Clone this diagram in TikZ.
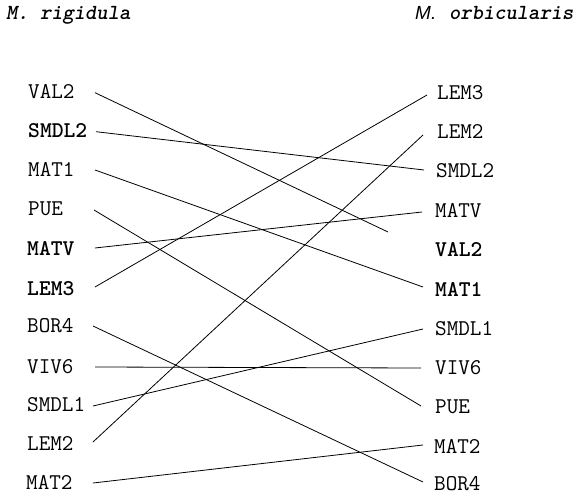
\documentclass[tikz,border=0pt]{standalone}
\usepackage{fontspec}
\newfontfamily\sansfam{Liberation Sans}
\begin{document}
\begin{tikzpicture}[x=1pt,y=-1pt,
  lab/.style={font=\ttfamily\fontsize{22.5}{24}\selectfont, inner sep=0pt},
  labL/.style={lab, anchor=west},
  labR/.style={lab, anchor=west},
  labB/.style={font=\ttfamily\bfseries\fontsize{22.5}{24}\selectfont},
  ttl/.style={font=\ttfamily\bfseries\slshape\fontsize{21.5}{24}\selectfont, inner sep=0pt, anchor=base west},
  conn/.style={line width=0.8pt, black}]
\useasboundingbox (0,0) rectangle (576,495);
% titles
\node[ttl] (tL) at (6,20) {M. rigidula};
\node[font=\sansfam\itshape\fontsize{19}{20}\selectfont, inner sep=0pt, anchor=base west] (tRm) at (415,20) {M.};
\node[ttl] (tR) at (449,20) {orbicularis};
% left labels
\node[labL] (L1) at (28,91.5) {VAL2};
\node[labL,labB] (L2) at (28,131) {SMDL2};
\node[labL] (L3) at (28,169.5) {MAT1};
\node[labL] (L4) at (28,208.5) {PUE};
\node[labL,labB] (L5) at (27,249) {MATV};
\node[labL,labB] (L6) at (27,289) {LEM3};
\node[labL] (L7) at (27,326) {BOR4};
\node[labL] (L8) at (27,366.5) {VIV6};
\node[labL] (L9) at (27,405) {SMDL1};
\node[labL] (L10) at (27,443) {LEM2};
\node[labL] (L11) at (26,482.5) {MAT2};
% right labels
\node[labR] (R1) at (437,93) {LEM3};
\node[labR] (R2) at (437,131) {LEM2};
\node[labR] (R3) at (436,170.5) {SMDL2};
\node[labR] (R4) at (435,211) {MATV};
\node[labR,labB] (R5) at (435,250) {VAL2};
\node[labR,labB] (R6) at (435,289.5) {MAT1};
\node[labR] (R7) at (435,328.5) {SMDL1};
\node[labR] (R8) at (435,367.5) {VIV6};
\node[labR] (R9) at (435,406.5) {PUE};
\node[labR] (R10) at (434,446) {MAT2};
\node[labR] (R11) at (434,484) {BOR4};
% connector end points
\coordinate (aVAL2) at (95,92.7);
\coordinate (aSMDL2) at (96,131.7);
\coordinate (aMAT1) at (95,170);
\coordinate (aPUE) at (94,210);
\coordinate (aMATV) at (95,248);
\coordinate (aLEM3) at (95,287);
\coordinate (aBOR4) at (93,326);
\coordinate (aVIV6) at (95,367);
\coordinate (aSMDL1) at (93,406);
\coordinate (aLEM2) at (93,442);
\coordinate (aMAT2) at (93,483);
\coordinate (bLEM3) at (427,95);
\coordinate (bLEM2) at (423,135);
\coordinate (bSMDL2) at (424,170);
\coordinate (bMATV) at (422,212);
\coordinate (bVALend) at (388,232);
\coordinate (bMAT1) at (423,287);
\coordinate (bSMDL1) at (423,329);
\coordinate (bVIV6) at (421,368);
\coordinate (bPUE) at (421,406);
\coordinate (bMAT2) at (423,445);
\coordinate (bBOR4) at (423,482);
% connectors
\draw[conn] (aVAL2) -- (bVALend);
\draw[conn] (aSMDL2) -- (bSMDL2);
\draw[conn] (aMAT1) -- (bMAT1);
\draw[conn] (aPUE) -- (bPUE);
\draw[conn] (aMATV) -- (bMATV);
\draw[conn] (aLEM3) -- (bLEM3);
\draw[conn] (aBOR4) -- (bBOR4);
\draw[conn] (aVIV6) -- (bVIV6);
\draw[conn] (aSMDL1) -- (bSMDL1);
\draw[conn] (aLEM2) -- (bLEM2);
\draw[conn] (aMAT2) -- (bMAT2);
\end{tikzpicture}
\end{document}
